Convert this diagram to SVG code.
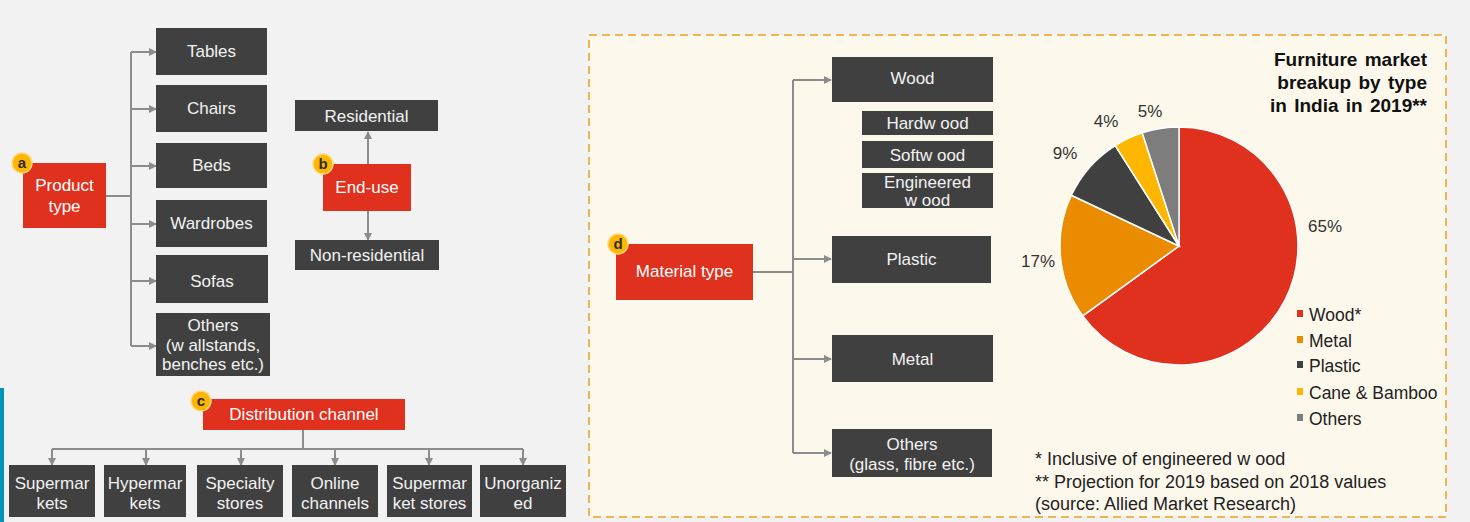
<svg xmlns="http://www.w3.org/2000/svg" width="1470" height="522" viewBox="0 0 1470 522">
<style>
text{font-family:"Liberation Sans",Arial,sans-serif}
.dk{fill:#404040}
.rd{fill:#e0301e}
.bt{fill:#f2f2f2;font-size:17px;text-anchor:middle}
.wt{fill:#ffffff;font-size:17px;text-anchor:middle}
.cn{stroke:#8c8c8c;stroke-width:2;fill:none}
.bd circle{fill:#ffb600;stroke:#ffd980;stroke-width:1.5}
.bd text{fill:#2d2d2d;font-size:15px;font-weight:bold;text-anchor:middle}
.lg{fill:#222;font-size:17.5px}
.nt{fill:#222;font-size:18px}
.pc{fill:#333;font-size:17px;text-anchor:middle}
.sl{stroke:#ffffff;stroke-width:1.5}
.tt{font-size:19px;font-weight:bold;fill:#111;text-anchor:end;word-spacing:2px}
</style>
<defs>
<marker id="ar" markerWidth="8" markerHeight="8" refX="7" refY="4" orient="auto" markerUnits="userSpaceOnUse">
<path d="M0,0 L8,4 L0,8 Z" fill="#8c8c8c"/>
</marker>
</defs>
<rect x="0" y="0" width="1470" height="522" fill="#f2f2f2"/>
<rect x="0" y="388" width="4" height="134" fill="#0093b8"/>
<rect x="589" y="35" width="857" height="482" fill="#fdf8ec" stroke="#f0b455" stroke-width="2" stroke-dasharray="8,5"/>

<g id="connectors">
<path class="cn" d="M106,196 H131"/>
<path class="cn" d="M131,52 V346"/>
<path class="cn" marker-end="url(#ar)" d="M131,52 H156"/>
<path class="cn" marker-end="url(#ar)" d="M131,109 H156"/>
<path class="cn" marker-end="url(#ar)" d="M131,166 H156"/>
<path class="cn" marker-end="url(#ar)" d="M131,224 H156"/>
<path class="cn" marker-end="url(#ar)" d="M131,281 H156"/>
<path class="cn" marker-end="url(#ar)" d="M131,346 H156"/>
<path class="cn" marker-end="url(#ar)" d="M368,164 V132"/>
<path class="cn" marker-end="url(#ar)" d="M368,211 V240"/>
<path class="cn" d="M303,430 V449"/>
<path class="cn" d="M52,449 H523"/>
<path class="cn" marker-end="url(#ar)" d="M52,449 V465"/>
<path class="cn" marker-end="url(#ar)" d="M146,449 V465"/>
<path class="cn" marker-end="url(#ar)" d="M241,449 V465"/>
<path class="cn" marker-end="url(#ar)" d="M335,449 V465"/>
<path class="cn" marker-end="url(#ar)" d="M429,449 V465"/>
<path class="cn" marker-end="url(#ar)" d="M523,449 V465"/>
<path class="cn" d="M753,272 H793"/>
<path class="cn" d="M793,80 V453"/>
<path class="cn" marker-end="url(#ar)" d="M793,80 H831"/>
<path class="cn" marker-end="url(#ar)" d="M793,259 H831"/>
<path class="cn" marker-end="url(#ar)" d="M793,359 H831"/>
<path class="cn" marker-end="url(#ar)" d="M793,453 H831"/>
</g>

<g id="product-type"><rect class="rd" x="23" y="163" width="83" height="65"/><text class="wt" x="64.5" y="191">Product</text><text class="wt" x="64.5" y="212">type</text></g>
<g id="badge-a" class="bd"><circle cx="22" cy="163" r="10"/><text x="22" y="168">a</text></g>
<g id="tables"><rect class="dk" x="156" y="28" width="111" height="47"/><text class="bt" x="211.5" y="57">Tables</text></g>
<g id="chairs"><rect class="dk" x="156" y="85" width="111" height="47"/><text class="bt" x="211.5" y="114">Chairs</text></g>
<g id="beds"><rect class="dk" x="156" y="143" width="111" height="45"/><text class="bt" x="211.5" y="171">Beds</text></g>
<g id="wardrobes"><rect class="dk" x="156" y="200" width="111" height="47"/><text class="bt" x="211.5" y="229">Wardrobes</text></g>
<g id="sofas"><rect class="dk" x="156" y="255" width="112" height="48"/><text class="bt" x="212" y="287">Sofas</text></g>
<g id="others-product"><rect class="dk" x="156" y="313" width="114" height="63"/><text class="bt" x="213" y="331">Others</text><text class="bt" x="213" y="351">(w allstands,</text><text class="bt" x="213" y="370">benches etc.)</text></g>

<g id="end-use"><rect class="rd" x="323" y="164" width="88" height="47"/><text class="wt" x="367" y="193">End-use</text></g>
<g id="badge-b" class="bd"><circle cx="323" cy="164" r="10"/><text x="323" y="169">b</text></g>
<g id="residential"><rect class="dk" x="295" y="100" width="143" height="31"/><text class="bt" x="366.5" y="122">Residential</text></g>
<g id="non-residential"><rect class="dk" x="295" y="240" width="144" height="30"/><text class="bt" x="367" y="261">Non-residential</text></g>

<g id="distribution"><rect class="rd" x="203" y="399" width="202" height="31"/><text class="wt" x="304" y="420">Distribution channel</text></g>
<g id="badge-c" class="bd"><circle cx="201" cy="401" r="10"/><text x="201" y="406">c</text></g>
<g id="supermarkets"><rect class="dk" x="9" y="465" width="86" height="52"/><text class="bt" x="52" y="489">Supermar</text><text class="bt" x="52" y="509">kets</text></g>
<g id="hypermarkets"><rect class="dk" x="104" y="465" width="82" height="52"/><text class="bt" x="145" y="489">Hypermar</text><text class="bt" x="145" y="509">kets</text></g>
<g id="specialty"><rect class="dk" x="197" y="465" width="86" height="52"/><text class="bt" x="240" y="489">Specialty</text><text class="bt" x="240" y="509">stores</text></g>
<g id="online"><rect class="dk" x="292" y="465" width="86" height="52"/><text class="bt" x="335" y="489">Online</text><text class="bt" x="335" y="509">channels</text></g>
<g id="supermarket-stores"><rect class="dk" x="387" y="465" width="85" height="52"/><text class="bt" x="429.5" y="489">Supermar</text><text class="bt" x="429.5" y="509">ket stores</text></g>
<g id="unorganized"><rect class="dk" x="480" y="465" width="86" height="52"/><text class="bt" x="523" y="489">Unorganiz</text><text class="bt" x="523" y="509">ed</text></g>

<g id="material-type"><rect class="rd" x="616" y="244" width="137" height="56"/><text class="wt" x="684.5" y="277">Material type</text></g>
<g id="badge-d" class="bd"><circle cx="618" cy="244" r="10"/><text x="618" y="249">d</text></g>
<g id="wood"><rect class="dk" x="832" y="57" width="161" height="45"/><text class="bt" x="912.5" y="84">Wood</text></g>
<g id="hardwood"><rect class="dk" x="862" y="111" width="131" height="24"/><text class="bt" x="927.5" y="129">Hardw ood</text></g>
<g id="softwood"><rect class="dk" x="862" y="141" width="131" height="27"/><text class="bt" x="927.5" y="161">Softw ood</text></g>
<g id="engineered"><rect class="dk" x="862" y="173" width="131" height="35"/><text class="bt" x="927.5" y="188">Engineered</text><text class="bt" x="927.5" y="206">w ood</text></g>
<g id="plastic"><rect class="dk" x="832" y="236" width="159" height="47"/><text class="bt" x="911.5" y="265">Plastic</text></g>
<g id="metal"><rect class="dk" x="832" y="335" width="161" height="47"/><text class="bt" x="912.5" y="365">Metal</text></g>
<g id="others-material"><rect class="dk" x="832" y="429" width="160" height="48"/><text class="bt" x="912" y="450">Others</text><text class="bt" x="912" y="470">(glass, fibre etc.)</text></g>

<g id="pie-chart">
<path class="sl" fill="#e0301e" d="M1179,246 L1179,127 A119,119 0 1 1 1082.7,315.9 Z"/>
<path class="sl" fill="#eb8c00" d="M1179,246 L1082.7,315.9 A119,119 0 0 1 1071.3,195.3 Z"/>
<path class="sl" fill="#404040" d="M1179,246 L1071.3,195.3 A119,119 0 0 1 1115.2,145.5 Z"/>
<path class="sl" fill="#ffb600" d="M1179,246 L1115.2,145.5 A119,119 0 0 1 1142.2,132.8 Z"/>
<path class="sl" fill="#7d7d7d" d="M1179,246 L1142.2,132.8 A119,119 0 0 1 1179,127 Z"/>
<text class="pc" x="1325" y="232">65%</text>
<text class="pc" x="1038" y="267">17%</text>
<text class="pc" x="1065" y="159">9%</text>
<text class="pc" x="1106" y="127">4%</text>
<text class="pc" x="1150" y="117">5%</text>
</g>
<g id="title"><text class="tt" x="1427" y="66">Furniture market</text><text class="tt" x="1427" y="89">breakup by type</text><text class="tt" x="1427" y="112">in India in 2019**</text></g>
<g id="legend">
<rect x="1297" y="310" width="6" height="7" fill="#e0301e"/><text class="lg" x="1309" y="321">Wood*</text>
<rect x="1297" y="336" width="6" height="7" fill="#eb8c00"/><text class="lg" x="1309" y="347">Metal</text>
<rect x="1297" y="361" width="6" height="7" fill="#404040"/><text class="lg" x="1309" y="372">Plastic</text>
<rect x="1297" y="388" width="6" height="7" fill="#ffb600"/><text class="lg" x="1309" y="399">Cane &amp; Bamboo</text>
<rect x="1297" y="414" width="6" height="7" fill="#7d7d7d"/><text class="lg" x="1309" y="425">Others</text>
</g>
<g id="notes">
<text class="nt" x="1035" y="465">* Inclusive of engineered w ood</text>
<text class="nt" x="1035" y="488">** Projection for 2019 based on 2018 values</text>
<text class="nt" x="1035" y="510">(source: Allied Market Research)</text>
</g>
</svg>
